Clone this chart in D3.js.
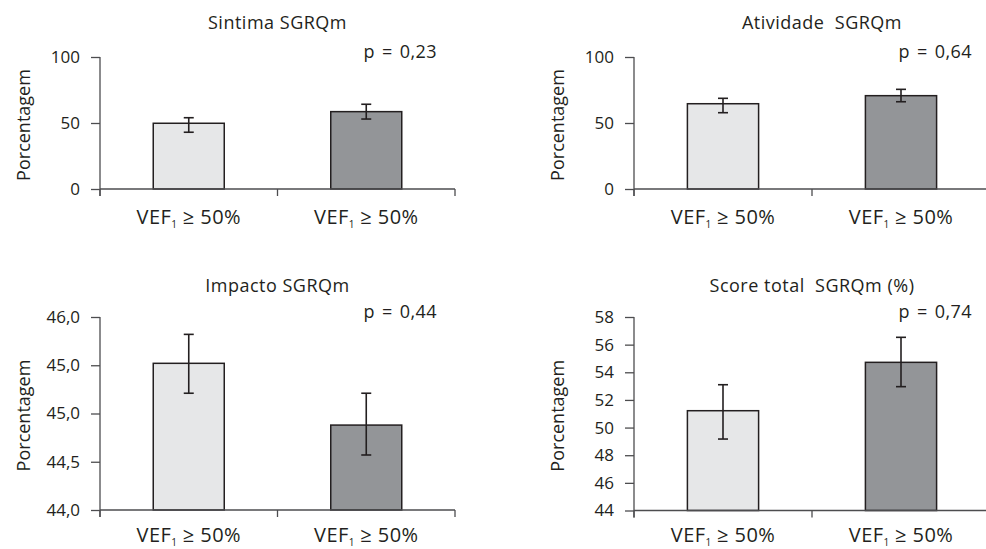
<!DOCTYPE html>
<html>
<head>
<meta charset="utf-8">
<title>SGRQm</title>
<script src="https://d3js.org/d3.v7.min.js"></script>
<style>
  body { margin: 0; background: #fff; }
  svg { display: block; }
  text { font-family: "Open Sans", sans-serif; fill: #231f20; }
</style>
</head>
<body>
<svg width="986" height="549"></svg>
<script>
// categories (x axis)
var categories = ["VEF₁ ≥ 50%", "VEF₁ ≥ 50%"];

var titles = ["Sintima SGRQm", "Atividade  SGRQm", "Impacto SGRQm", "Score total  SGRQm (%)"];
var pValues = ["p = 0,23", "p = 0,64", "p = 0,44", "p = 0,74"];

// bar means and error bar limits
var sintimaMeans = [49.8, 58.6];
var sintimaLow = [43.0, 53.0];
var sintimaHigh = [54.0, 64.2];

var atividadeMeans = [64.6, 70.7];
var atividadeLow = [57.8, 66.1];
var atividadeHigh = [68.7, 75.5];

var impactoMeans = [45.52, 44.88];
var impactoLow = [45.21, 44.57];
var impactoHigh = [45.82, 45.21];

var scoreMeans = [51.22, 54.72];
var scoreLow = [49.17, 52.96];
var scoreHigh = [53.1, 56.53];

// y ticks
var pctTicks = [0, 50, 100];
var pctTickLabels = ["0", "50", "100"];
var impactoTicks = [44, 44.5, 45, 45.5, 46];
var impactoTickLabels = ["44,0", "44,5", "45,0", "45,0", "46,0"];
var scoreTicks = [44, 46, 48, 50, 52, 54, 56, 58];
var scoreTickLabels = ["44", "46", "48", "50", "52", "54", "56", "58"];

var barColors = ["#e6e7e8", "#939598"];

var panels = [
  {title: titles[0], p: pValues[0], means: sintimaMeans, low: sintimaLow, high: sintimaHigh,
   domain: [0, 100], ticks: pctTicks, labels: pctTickLabels,
   left: 100, right: 455, top: 57, bottom: 189, titleY: 29, labelY: 224},
  {title: titles[1], p: pValues[1], means: atividadeMeans, low: atividadeLow, high: atividadeHigh,
   domain: [0, 100], ticks: pctTicks, labels: pctTickLabels,
   left: 634, right: 990, top: 57, bottom: 189, titleY: 29, labelY: 224, titleShift: 10},
  {title: titles[2], p: pValues[2], means: impactoMeans, low: impactoLow, high: impactoHigh,
   domain: [44, 46], ticks: impactoTicks, labels: impactoTickLabels,
   left: 100, right: 455, top: 317, bottom: 510, titleY: 292, labelY: 542},
  {title: titles[3], p: pValues[3], means: scoreMeans, low: scoreLow, high: scoreHigh,
   domain: [44, 58], ticks: scoreTicks, labels: scoreTickLabels,
   left: 634, right: 990, top: 317, bottom: 510.5, titleY: 292, labelY: 542}
];

var svg = d3.select("svg");

panels.forEach(function(p) {
  var g = svg.append("g");

  var x = d3.scaleBand()
    .domain([0, 1])
    .range([p.left, p.right])
    .paddingInner(0.6)
    .paddingOuter(0.3);

  var y = d3.scaleLinear()
    .domain(p.domain)
    .range([p.bottom, p.top]);

  // y axis
  var yAxis = d3.axisLeft(y)
    .tickValues(p.ticks)
    .tickFormat(function(d, i) { return p.labels[i]; })
    .tickSize(9)
    .tickSizeOuter(0)
    .tickPadding(11);

  var ya = g.append("g")
    .attr("transform", "translate(" + p.left + ",0)")
    .call(yAxis);
  ya.select(".domain").attr("stroke", "#4d4d4f").attr("stroke-width", 1.3)
    .attr("d", "M0," + y(p.domain[1]) + "V" + (p.bottom + 7));
  ya.selectAll(".tick line").attr("stroke", "#4d4d4f").attr("stroke-width", 1.3);
  ya.selectAll(".tick text")
    .style("font-family", "Open Sans, sans-serif")
    .style("font-size", "17px")
    .attr("fill", "#231f20");

  // bars
  var idx = [0, 1];
  g.selectAll("rect.bar")
    .data(idx)
    .enter().append("rect")
    .attr("class", "bar")
    .attr("x", function(i) { return x(i); })
    .attr("width", x.bandwidth())
    .attr("y", function(i) { return y(p.means[i]); })
    .attr("height", function(i) { return p.bottom - y(p.means[i]); })
    .attr("fill", function(i) { return barColors[i]; })
    .attr("stroke", "#231f20")
    .attr("stroke-width", 1.5);

  // x axis line + boundary ticks
  var bounds = [p.left, (x(0) + x(1) + x.bandwidth()) / 2, p.right];
  g.append("line")
    .attr("x1", p.left).attr("x2", p.right)
    .attr("y1", p.bottom).attr("y2", p.bottom)
    .attr("stroke", "#4d4d4f").attr("stroke-width", 1.3);
  g.selectAll("line.xt")
    .data(bounds)
    .enter().append("line")
    .attr("class", "xt")
    .attr("x1", function(d) { return d; }).attr("x2", function(d) { return d; })
    .attr("y1", p.bottom).attr("y2", p.bottom + 7)
    .attr("stroke", "#4d4d4f").attr("stroke-width", 1.3);

  // error bars
  var eb = g.selectAll("g.err")
    .data(idx)
    .enter().append("g")
    .attr("class", "err")
    .attr("stroke", "#231f20")
    .attr("stroke-width", 1.6);
  eb.append("line")
    .attr("x1", function(i) { return x(i) + x.bandwidth() / 2; })
    .attr("x2", function(i) { return x(i) + x.bandwidth() / 2; })
    .attr("y1", function(i) { return y(p.high[i]); })
    .attr("y2", function(i) { return y(p.low[i]); });
  eb.append("line")
    .attr("x1", function(i) { return x(i) + x.bandwidth() / 2 - 5; })
    .attr("x2", function(i) { return x(i) + x.bandwidth() / 2 + 5; })
    .attr("y1", function(i) { return y(p.high[i]); })
    .attr("y2", function(i) { return y(p.high[i]); });
  eb.append("line")
    .attr("x1", function(i) { return x(i) + x.bandwidth() / 2 - 5; })
    .attr("x2", function(i) { return x(i) + x.bandwidth() / 2 + 5; })
    .attr("y1", function(i) { return y(p.low[i]); })
    .attr("y2", function(i) { return y(p.low[i]); });

  // category labels with subscript
  var lab = g.selectAll("text.cat")
    .data(idx)
    .enter().append("text")
    .attr("class", "cat")
    .attr("x", function(i) { return x(i) + x.bandwidth() / 2; })
    .attr("y", p.labelY)
    .attr("text-anchor", "middle")
    .style("font-size", "20px")
    .style("letter-spacing", "0.4px");
  lab.each(function(i) {
    var parts = categories[i].split("₁");
    var t = d3.select(this);
    t.append("tspan").text(parts[0]);
    t.append("tspan").text("1").attr("dy", 4).style("font-size", "10px");
    t.append("tspan").text(parts[1]).attr("dy", -4);
  });

  // title
  g.append("text")
    .attr("x", (p.left + p.right) / 2 + (p.titleShift || 0))
    .attr("y", p.titleY)
    .attr("text-anchor", "middle")
    .style("font-size", "18px")
    .style("letter-spacing", "0.5px")
    .style("white-space", "pre")
    .text(p.title);

  // p value
  g.append("text")
    .attr("x", p.right - 18)
    .attr("y", p.top + 1)
    .attr("text-anchor", "end")
    .style("font-size", "18px")
    .style("letter-spacing", "0.4px")
    .style("word-spacing", "2px")
    .text(p.p);

  // y label
  g.append("text")
    .attr("transform", "translate(" + (p.left - 70) + "," + ((p.top + p.bottom) / 2 + 2) + ") rotate(-90)")
    .attr("text-anchor", "middle")
    .style("font-size", "18px")
    .text("Porcentagem");
});
</script>
</body>
</html>
